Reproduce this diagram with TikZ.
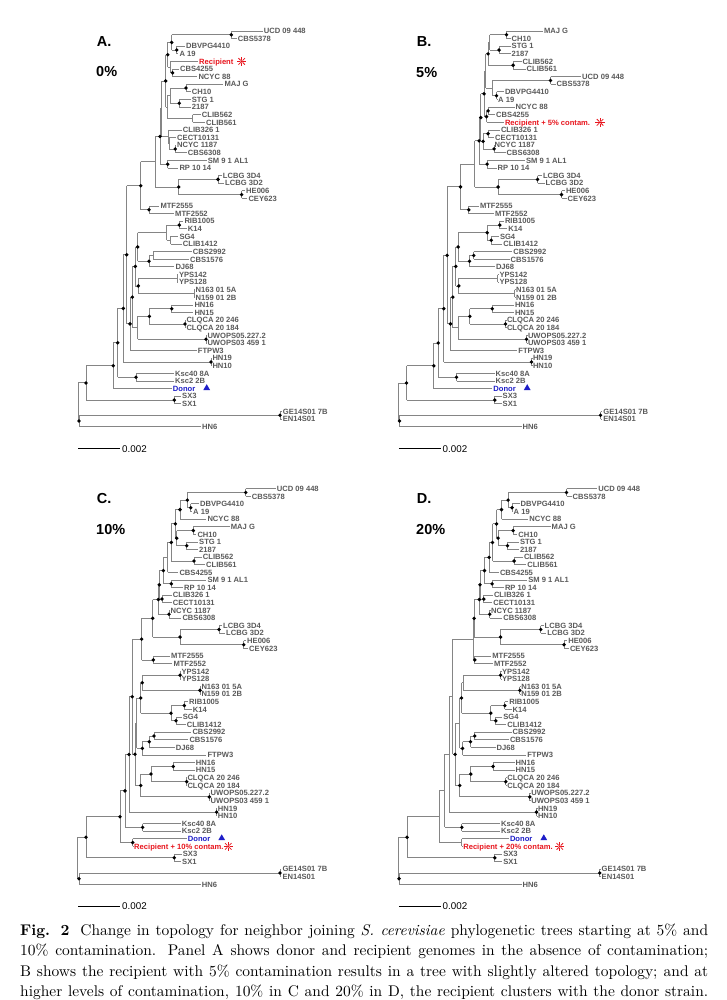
\documentclass[tikz,border=0pt]{standalone}
\usepackage{fontspec}
\usepackage{graphicx}
\newfontfamily\arialf{Liberation Sans}
\usetikzlibrary{calc,shapes.geometric}
\pgfdeclarelayer{bg}\pgfsetlayers{bg,main}
\definecolor{recred}{HTML}{E8161E}
\definecolor{donblue}{HTML}{1E1EC8}
\definecolor{labc}{HTML}{5A5A5A}
\definecolor{brc}{HTML}{858585}
\tikzset{
 br/.style={draw=brc, line width=0.85pt},
 lbl/.style={font=\arialf\bfseries\fontsize{7.6}{8}\selectfont, text=labc, anchor=west, inner sep=0pt, text height=5.4pt, text depth=0pt},
 dotn/.style={circle, fill=black, inner sep=0pt, minimum size=3.8pt},
 ttl/.style={font=\arialf\bfseries\fontsize{14.5}{16}\selectfont, anchor=west, inner sep=0pt, text height=10.4pt, text depth=0pt},
 sbt/.style={font=\arialf\fontsize{9.8}{11}\selectfont, anchor=west, inner sep=0pt, text height=7pt, text depth=0pt},
 sbar/.style={draw=black, line width=0.8pt},
 dtri/.style={regular polygon, regular polygon sides=3, fill=donblue, inner sep=0pt, minimum size=7.8pt},
 rdot/.style={circle, fill=recred, inner sep=0pt, minimum size=2.6pt}
}
\def\pox{0}\def\poy{0}
\newcommand\lf[4]{%
 \coordinate (#1) at ({\pox+#3},{\poy+31+7.61*#2});
 \node[lbl] (#1t) at ([xshift=1pt]#1) {#4};}
\newcommand\nd[4]{%
 \path let \p1=(#3),\p2=(#4) in coordinate (#1) at ({(\pox+#2)*1pt},{0.5*\y1+0.5*\y2});
 \begin{pgfonlayer}{bg}\draw[br] (#1 |- #3) -- (#1 |- #4) (#1 |- #3) -- (#3) (#1 |- #4) -- (#4);\end{pgfonlayer}}
\newcommand\ndd[4]{\nd{#1}{#2}{#3}{#4}\node[dotn] (#1d) at (#1) {};}
\newcommand\rstar[3]{%
 \node[rdot] (#1) at ({\pox+#2},{\poy+31+7.61*#3}) {};
 \foreach \ang in {0,45,...,315} \draw[recred, line width=0.8pt] ($(#1)+(\ang:1.4pt)$) -- ($(#1)+(\ang:4.6pt)$);}
\newcommand\dtriang[3]{\node[dtri] (#1) at ({\pox+#2},{\poy+31+7.61*#3-0.6}) {};}
\newcommand\lowAB[2]{%
\lf{#125}{25}{183.3}{RIB1005}
\lf{#126}{26}{186.7}{K14}
\lf{#127}{27}{178.3}{SG4}
\lf{#128}{28}{181.7}{CLIB1412}
\lf{#129}{29}{191.7}{CBS2992}
\lf{#130}{30}{189}{CBS1576}
\lf{#131}{31}{174.3}{DJ68}
\lf{#132}{32}{177.8}{YPS142}
\lf{#133}{33}{177.8}{YPS128}
\lf{#134}{34}{194.5}{N163 01 5A}
\lf{#135}{35}{194.5}{N159 01 2B}
\lf{#136}{36}{193.3}{HN16}
\lf{#137}{37}{193.3}{HN15}
\lf{#138}{38}{185.3}{CLQCA 20 246}
\lf{#139}{39}{185.3}{CLQCA 20 184}
\lf{#140}{40}{206.3}{UWOPS05.227.2}
\lf{#141}{41}{206.3}{UWOPS03 459 1}
\lf{#142}{42}{196.7}{FTPW3}
\lf{#143}{43}{211.3}{HN19}
\lf{#144}{44}{211.3}{HN10}
\lf{#145}{45}{174}{Ksc40 8A}
\lf{#146}{46}{174}{Ksc2 2B}
\lf{#147}{47}{171.7}{\color{donblue}Donor}
\lf{#148}{48}{181}{SX3}
\lf{#149}{49}{181}{SX1}
\lf{#150}{50}{281.7}{GE14S01 7B}
\lf{#151}{51}{281.7}{EN14S01}
\lf{#152}{52}{201}{HN6}
\ndd{#1RK}{179.3}{#125}{#126}
#2{#1SG}{170.7}{#127}{#128}
#2{#1RS}{166.7}{#1RK}{#1SG}
#2{#1CB}{153.3}{#129}{#130}
\ndd{#1CD}{149}{#1CB}{#131}
\ndd{#1U}{137.7}{#1RS}{#1CD}
\nd{#1YP}{177.3}{#132}{#133}
\nd{#1N}{194.3}{#134}{#135}
\ndd{#1YN}{138.3}{#1YP}{#1N}
\ndd{#1V}{135.3}{#1U}{#1YN}
\ndd{#1HN}{171.7}{#136}{#137}
\ndd{#1CQ}{185}{#138}{#139}
\ndd{#1HQ}{149.3}{#1HN}{#1CQ}
\ndd{#1UW}{206}{#140}{#141}
\nd{#1W}{137.7}{#1HQ}{#1UW}
\ndd{#1VW}{132.3}{#1V}{#1W}
\ndd{#1VF}{130}{#1VW}{#142}
\ndd{#1SV}{126.7}{#1S}{#1VF}
\ndd{#1H19}{211}{#143}{#144}
\ndd{#1SH}{123.3}{#1SV}{#1H19}
\ndd{#1Ks}{136}{#145}{#146}
\ndd{#1SK}{117.7}{#1SH}{#1Ks}
\ndd{#1SD}{113.3}{#1SK}{#147}
\ndd{#1SX}{174.3}{#148}{#149}
\ndd{#1T}{86}{#1SD}{#1SX}
\ndd{#1GE}{280}{#150}{#151}
\ndd{#1GH}{79}{#1GE}{#152}
\nd{#1root}{78.3}{#1T}{#1GH}
\dtriang{#1tri}{206.7}{47}
}
\begin{document}
\begin{tikzpicture}[x=1pt,y=-1pt]
\useasboundingbox (0,0) rectangle (726,1000);
\begin{pgfonlayer}{bg}\fill[white] (0,0) rectangle (726,1000);\end{pgfonlayer}
% ---------------- Panel A
\def\pox{0}\def\poy{0}
\node[ttl] (tA) at (96.7,41) {A.};
\node[ttl] (pA) at (96,71) {0\%};
\lf{a0}{0}{262.7}{UCD 09 448}
\lf{a1}{1}{236.7}{CBS5378}
\lf{a2}{2}{185}{DBVPG4410}
\lf{a3}{3}{178.3}{A 19}
\lf{a4}{4}{198}{\color{recred}Recipient}
\lf{a5}{5}{179}{CBS4255}
\lf{a6}{6}{197.3}{NCYC 88}
\lf{a7}{7}{223.3}{MAJ G}
\lf{a8}{8}{190.7}{CH10}
\lf{a9}{9}{190.7}{STG 1}
\lf{a10}{10}{190.7}{2187}
\lf{a11}{11}{200.7}{CLIB562}
\lf{a12}{12}{205}{CLIB561}
\lf{a13}{13}{181.7}{CLIB326 1}
\lf{a14}{14}{176}{CECT10131}
\lf{a15}{15}{176}{NCYC 1187}
\lf{a16}{16}{186.7}{CBS6308}
\lf{a17}{17}{206.7}{SM 9 1 AL1}
\lf{a18}{18}{178.3}{RP 10 14}
\lf{a19}{19}{221.7}{LCBG 3D4}
\lf{a20}{20}{224}{LCBG 3D2}
\lf{a21}{21}{245}{HE006}
\lf{a22}{22}{247.3}{CEY623}
\lf{a23}{23}{159.3}{MTF2555}
\lf{a24}{24}{174}{MTF2552}
\ndd{aUC}{231.3}{a0}{a1}
\ndd{aDA}{176.7}{a2}{a3}
\ndd{aX1}{171.7}{aUC}{aDA}
\ndd{anA}{172.5}{a5}{a6}
\nd{anB}{170.5}{a4}{anA}
\ndd{aX12}{167.7}{aX1}{anB}
\ndd{aMC}{186}{a7}{a8}
\ndd{aSA}{179.3}{a9}{a10}
\nd{aMS}{170}{aMC}{aSA}
\nd{aCL}{192.7}{a11}{a12}
\nd{aX3}{167.3}{aMS}{aCL}
\ndd{aX123}{165.7}{aX12}{aX3}
\ndd{aNC}{175.3}{a15}{a16}
\nd{aC2}{169}{a14}{aNC}
\nd{aX4}{168.3}{a13}{aC2}
\nd{aP}{161.5}{aX123}{aX4}
\ndd{aSM}{167.7}{a17}{a18}
\ndd{aQ}{160}{aP}{aSM}
\ndd{aLC}{218}{a19}{a20}
\ndd{aHC}{241.7}{a21}{a22}
\ndd{aLH}{178.7}{aLC}{aHC}
\nd{aR}{155}{aQ}{aLH}
\ndd{aMT}{149}{a23}{a24}
\ndd{aS}{140.7}{aR}{aMT}
\lowAB{a}{\nd}
\rstar{astar}{241.7}{4}
\coordinate (sa1) at (78.3,448.7); \coordinate (sa2) at (120,448.7);
\draw[sbar] (sa1) -- (sa2);
\node[sbt] (sat) at (122,448.7) {0.002};
% ---------------- Panel B
\def\pox{320.5}\def\poy{0}
\node[ttl] (tB) at (416.7,41) {B.};
\node[ttl] (pB) at (416,72) {5\%};
\lf{b0}{0}{222.3}{MAJ G}
\lf{b1}{1}{190}{CH10}
\lf{b2}{2}{190}{STG 1}
\lf{b3}{3}{190}{2187}
\lf{b4}{4}{201}{CLIB562}
\lf{b5}{5}{205}{CLIB561}
\lf{b6}{6}{260.5}{UCD 09 448}
\lf{b7}{7}{235}{CBS5378}
\lf{b8}{8}{183.3}{DBVPG4410}
\lf{b9}{9}{176.5}{A 19}
\lf{b10}{10}{194}{NCYC 88}
\lf{b11}{11}{174.5}{CBS4255}
\lf{b12}{12}{183.3}{\color{recred}Recipient + 5\% contam.}
\lf{b13}{13}{179.3}{CLIB326 1}
\lf{b14}{14}{173.5}{CECT10131}
\lf{b15}{15}{173}{NCYC 1187}
\lf{b16}{16}{185}{CBS6308}
\lf{b17}{17}{204.3}{SM 9 1 AL1}
\lf{b18}{18}{176}{RP 10 14}
\lf{b19}{19}{221.3}{LCBG 3D4}
\lf{b20}{20}{224}{LCBG 3D2}
\lf{b21}{21}{244.3}{HE006}
\lf{b22}{22}{246}{CEY623}
\lf{b23}{23}{158.3}{MTF2555}
\lf{b24}{24}{173.3}{MTF2552}
\ndd{bMC}{186}{b0}{b1}
\ndd{bSA}{178.6}{b2}{b3}
\nd{bMS}{169.3}{bMC}{bSA}
\ndd{bCL}{192.6}{b4}{b5}
\ndd{bX3}{167.6}{bMS}{bCL}
\ndd{bUC}{230}{b6}{b7}
\ndd{bDA}{176}{b8}{b9}
\nd{bX1}{172}{bUC}{bDA}
\nd{bY1}{165.3}{bX3}{bX1}
\ndd{bN8}{167.6}{b10}{b11}
\ndd{bX2}{166}{bN8}{b12}
\ndd{bY2}{163.6}{bY1}{bX2}
\ndd{bCC}{167.6}{b13}{b14}
\ndd{bNC}{173.6}{b15}{b16}
\ndd{bX4}{162.6}{bCC}{bNC}
\ndd{bP}{160.3}{bY2}{bX4}
\ndd{bSM}{166.6}{b17}{b18}
\ndd{bQ}{158.6}{bP}{bSM}
\ndd{bLC}{217}{b19}{b20}
\ndd{bHC}{241}{b21}{b22}
\ndd{bLH}{177.6}{bLC}{bHC}
\nd{bR}{154.3}{bQ}{bLH}
\ndd{bMT}{148.3}{b23}{b24}
\ndd{bS}{140}{bR}{bMT}
\lowAB{b}{\ndd}
\rstar{bstar}{279.5}{12}
\coordinate (sb1) at (398.8,448.7); \coordinate (sb2) at (440.5,448.7);
\draw[sbar] (sb1) -- (sb2);
\node[sbt] (sbt) at (442.5,448.7) {0.002};
% ---------------- Panel C
\def\pox{0}\def\poy{457.7}
\node[ttl] (tC) at (96.7,498) {C.};
\node[ttl] (pC) at (96,529) {10\%};
\lf{c0}{0}{275.7}{UCD 09 448}
\lf{c1}{1}{250.7}{CBS5378}
\lf{c2}{2}{199}{DBVPG4410}
\lf{c3}{3}{192}{A 19}
\lf{c4}{4}{206.3}{NCYC 88}
\lf{c5}{5}{229.7}{MAJ G}
\lf{c6}{6}{196.3}{CH10}
\lf{c7}{7}{198}{STG 1}
\lf{c8}{8}{198}{2187}
\lf{c9}{9}{201.7}{CLIB562}
\lf{c10}{10}{205}{CLIB561}
\lf{c11}{11}{178.3}{CBS4255}
\lf{c12}{12}{206.3}{SM 9 1 AL1}
\lf{c13}{13}{183}{RP 10 14}
\lf{c14}{14}{171.7}{CLIB326 1}
\lf{c15}{15}{171.7}{CECT10131}
\lf{c16}{16}{169.5}{NCYC 1187}
\lf{c17}{17}{181.3}{CBS6308}
\lf{c18}{18}{222}{LCBG 3D4}
\lf{c19}{19}{225}{LCBG 3D2}
\lf{c20}{20}{246}{HE006}
\lf{c21}{21}{248}{CEY623}
\lf{c22}{22}{170}{MTF2555}
\lf{c23}{23}{172.3}{MTF2552}
\lf{c24}{24}{180.3}{YPS142}
\lf{c25}{25}{180.3}{YPS128}
\lf{c26}{26}{200.3}{N163 01 5A}
\lf{c27}{27}{200.3}{N159 01 2B}
\lf{c28}{28}{188}{RIB1005}
\lf{c29}{29}{191.7}{K14}
\lf{c30}{30}{181.7}{SG4}
\lf{c31}{31}{185.7}{CLIB1412}
\lf{c32}{32}{191.3}{CBS2992}
\lf{c33}{33}{188.3}{CBS1576}
\lf{c34}{34}{174.7}{DJ68}
\lf{c35}{35}{206.3}{FTPW3}
\lf{c36}{36}{194.7}{HN16}
\lf{c37}{37}{194.7}{HN15}
\lf{c38}{38}{186.3}{CLQCA 20 246}
\lf{c39}{39}{186.3}{CLQCA 20 184}
\lf{c40}{40}{209.5}{UWOPS05.227.2}
\lf{c41}{41}{209.5}{UWOPS03 459 1}
\lf{c42}{42}{216.7}{HN19}
\lf{c43}{43}{216.7}{HN10}
\lf{c44}{44}{180.7}{Ksc40 8A}
\lf{c45}{45}{180.7}{Ksc2 2B}
\lf{c46}{46}{186.7}{\color{donblue}Donor}
\lf{c47}{47}{133}{\color{recred}Recipient + 10\% contam.}
\lf{c48}{48}{181.7}{SX3}
\lf{c49}{49}{181}{SX1}
\lf{c50}{50}{281.3}{GE14S01 7B}
\lf{c51}{51}{281.3}{EN14S01}
\lf{c52}{52}{200.7}{HN6}
\ndd{cUC}{245.7}{c0}{c1}
\ndd{cDA}{190.7}{c2}{c3}
\ndd{cX1}{187.3}{cUC}{cDA}
\ndd{cXN}{180}{cX1}{c4}
\ndd{cMC}{193.3}{c5}{c6}
\ndd{cSA}{186.7}{c7}{c8}
\ndd{cMS}{176.7}{cMC}{cSA}
\ndd{cK1}{175.3}{cXN}{cMS}
\ndd{cCL}{194}{c9}{c10}
\ndd{cK2}{171.3}{cK1}{cCL}
\nd{cK3}{167.7}{cK2}{c11}
\ndd{cSM}{171.3}{c12}{c13}
\ndd{cZ}{163.3}{cK3}{cSM}
\ndd{cCC}{162}{c14}{c15}
\ndd{cP}{159.3}{cZ}{cCC}
\ndd{cNC}{169}{c16}{c17}
\ndd{cQ}{158.3}{cP}{cNC}
\ndd{cLC}{219}{c18}{c19}
\ndd{cHC}{243.7}{c20}{c21}
\ndd{cLH}{180}{cLC}{cHC}
\ndd{cR}{152.7}{cQ}{cLH}
\ndd{cMT}{153.3}{c22}{c23}
\ndd{cS}{141.7}{cR}{cMT}
\ndd{cYP}{180}{c24}{c25}
\ndd{cN}{200}{c26}{c27}
\ndd{cYN}{142.3}{cYP}{cN}
\ndd{cRK}{184.3}{c28}{c29}
\ndd{cSG}{176}{c30}{c31}
\ndd{cRS}{171}{cRK}{cSG}
\ndd{cA}{140.7}{cYN}{cRS}
\ndd{cCB}{154}{c32}{c33}
\ndd{cCD}{149.3}{cCB}{c34}
\ndd{cB}{142.3}{cCD}{c35}
\nd{cAB}{136.5}{cA}{cB}
\ndd{cHN}{173.3}{c36}{c37}
\ndd{cCQ}{186.7}{c38}{c39}
\ndd{cHQ}{151}{cHN}{cCQ}
\ndd{cUW}{209.3}{c40}{c41}
\ndd{cW}{140.7}{cHQ}{cUW}
\ndd{cABW}{135}{cAB}{cW}
\ndd{cSW}{132.3}{cS}{cABW}
\ndd{cH19}{216.7}{c42}{c43}
\ndd{cH}{129}{cSW}{cH19}
\ndd{cKs}{142.7}{c44}{c45}
\ndd{cKH}{125}{cH}{cKs}
\ndd{cDR}{132.7}{c46}{c47}
\ndd{cKD}{120}{cKH}{cDR}
\ndd{cSX}{174.3}{c48}{c49}
\ndd{cT}{86}{cKD}{cSX}
\ndd{cGE}{280}{c50}{c51}
\ndd{cGH}{79}{cGE}{c52}
\nd{croot}{77.7}{cT}{cGH}
\dtriang{ctri}{221.7}{46}
\rstar{cstar}{228.3}{47}
\coordinate (sc1) at (78.3,906.4); \coordinate (sc2) at (120,906.4);
\draw[sbar] (sc1) -- (sc2);
\node[sbt] (sct) at (122,906.4) {0.002};
% ---------------- Panel D
\def\pox{320.5}\def\poy{457.7}
\node[ttl] (tD) at (416.7,498) {D.};
\node[ttl] (pD) at (416,529) {20\%};
\lf{d0}{0}{276.6}{UCD 09 448}
\lf{d1}{1}{251}{CBS5378}
\lf{d2}{2}{199}{DBVPG4410}
\lf{d3}{3}{192}{A 19}
\lf{d4}{4}{207.6}{NCYC 88}
\lf{d5}{5}{230}{MAJ G}
\lf{d6}{6}{196.6}{CH10}
\lf{d7}{7}{198.3}{STG 1}
\lf{d8}{8}{198.3}{2187}
\lf{d9}{9}{202.3}{CLIB562}
\lf{d10}{10}{205.6}{CLIB561}
\lf{d11}{11}{178.3}{CBS4255}
\lf{d12}{12}{206.6}{SM 9 1 AL1}
\lf{d13}{13}{183.3}{RP 10 14}
\lf{d14}{14}{172.3}{CLIB326 1}
\lf{d15}{15}{171.6}{CECT10131}
\lf{d16}{16}{169.5}{NCYC 1187}
\lf{d17}{17}{181.6}{CBS6308}
\lf{d18}{18}{223}{LCBG 3D4}
\lf{d19}{19}{225.6}{LCBG 3D2}
\lf{d20}{20}{246.6}{HE006}
\lf{d21}{21}{248.3}{CEY623}
\lf{d22}{22}{170.6}{MTF2555}
\lf{d23}{23}{172.3}{MTF2552}
\lf{d24}{24}{180.3}{YPS142}
\lf{d25}{25}{180.3}{YPS128}
\lf{d26}{26}{199.6}{N163 01 5A}
\lf{d27}{27}{199.6}{N159 01 2B}
\lf{d28}{28}{187.6}{RIB1005}
\lf{d29}{29}{191}{K14}
\lf{d30}{30}{181.6}{SG4}
\lf{d31}{31}{185.6}{CLIB1412}
\lf{d32}{32}{191}{CBS2992}
\lf{d33}{33}{188.3}{CBS1576}
\lf{d34}{34}{175}{DJ68}
\lf{d35}{35}{205.6}{FTPW3}
\lf{d36}{36}{194}{HN16}
\lf{d37}{37}{194}{HN15}
\lf{d38}{38}{185.6}{CLQCA 20 246}
\lf{d39}{39}{185.6}{CLQCA 20 184}
\lf{d40}{40}{209.6}{UWOPS05.227.2}
\lf{d41}{41}{209.6}{UWOPS03 459 1}
\lf{d42}{42}{216.3}{HN19}
\lf{d43}{43}{216.3}{HN10}
\lf{d44}{44}{179.5}{Ksc40 8A}
\lf{d45}{45}{179.5}{Ksc2 2B}
\lf{d46}{46}{188.3}{\color{donblue}Donor}
\lf{d47}{47}{141.6}{\color{recred}Recipient + 20\% contam.}
\lf{d48}{48}{181.6}{SX3}
\lf{d49}{49}{181.6}{SX1}
\lf{d50}{50}{280}{GE14S01 7B}
\lf{d51}{51}{280}{EN14S01}
\lf{d52}{52}{201}{HN6}
\ndd{dUC}{246}{d0}{d1}
\ndd{dDA}{191.6}{d2}{d3}
\ndd{dX1}{187.6}{dUC}{dDA}
\ndd{dXN}{181}{dX1}{d4}
\ndd{dMC}{192.6}{d5}{d6}
\ndd{dSA}{187}{d7}{d8}
\ndd{dMS}{177.6}{dMC}{dSA}
\ndd{dK1}{176}{dXN}{dMS}
\ndd{dCL}{193.6}{d9}{d10}
\ndd{dK2}{172}{dK1}{dCL}
\ndd{dK3}{168.6}{dK2}{d11}
\ndd{dSM}{171.6}{d12}{d13}
\ndd{dZ}{164}{dK3}{dSM}
\ndd{dCC}{163.3}{d14}{d15}
\ndd{dP}{159.5}{dZ}{dCC}
\ndd{dNC}{169.3}{d16}{d17}
\ndd{dQ}{158.8}{dP}{dNC}
\ndd{dLC}{220.3}{d18}{d19}
\ndd{dHC}{243.6}{d20}{d21}
\ndd{dLH}{180}{dLC}{dHC}
\ndd{dR}{153.6}{dQ}{dLH}
\ndd{dMT}{154.3}{d22}{d23}
\nd{dS}{153}{dR}{dMT}
\ndd{dYP}{180}{d24}{d25}
\ndd{dN}{199.3}{d26}{d27}
\nd{dYN}{142.5}{dYP}{dN}
\ndd{dRK}{184.3}{d28}{d29}
\ndd{dSG}{175.3}{d30}{d31}
\ndd{dRS}{170.3}{dRK}{dSG}
\ndd{dA}{141}{dYN}{dRS}
\ndd{dCB}{154.3}{d32}{d33}
\ndd{dCD}{150}{dCB}{d34}
\ndd{dB}{142}{dCD}{d35}
\nd{dAB}{139}{dA}{dB}
\ndd{dHN}{172.6}{d36}{d37}
\ndd{dCQ}{185.3}{d38}{d39}
\ndd{dHQ}{150.3}{dHN}{dCQ}
\ndd{dUW}{209.3}{d40}{d41}
\ndd{dW}{139.3}{dHQ}{dUW}
\ndd{dABW}{134.6}{dAB}{dW}
\nd{dSW}{132}{dS}{dABW}
\ndd{dH19}{216}{d42}{d43}
\nd{dH}{128.6}{dSW}{dH19}
\ndd{dKs}{141.3}{d44}{d45}
\nd{dKH}{124.3}{dH}{dKs}
\nd{dDR}{141.3}{d46}{d47}
\nd{dKD}{118.6}{dKH}{dDR}
\ndd{dSX}{174.3}{d48}{d49}
\ndd{dT}{86.6}{dKD}{dSX}
\ndd{dGE}{279.3}{d50}{d51}
\ndd{dGH}{78.6}{dGE}{d52}
\nd{droot}{78}{dT}{dGH}
\dtriang{dtri}{223.3}{46}
\rstar{dstar}{239.3}{47}
\coordinate (sd1) at (398.8,906.4); \coordinate (sd2) at (440.5,906.4);
\draw[sbar] (sd1) -- (sd2);
\node[sbt] (sdt) at (442.5,906.4) {0.002};
% ---------------- Caption
\node[anchor=base west, inner sep=0pt] (cap) at (20,935.5) {\scalebox{1.546}{\parbox[t]{445pt}{\fontsize{10}{13.13}\selectfont\parfillskip=0pt\parindent=0pt
\textbf{Fig. 2}\hspace{0.7em}Change in topology for neighbor joining \textit{S. cerevisiae} phylogenetic trees starting at 5\% and\linebreak 10\% contamination. Panel A shows donor and recipient genomes in the absence of contamination;\linebreak B shows the recipient with 5\% contamination results in a tree with slightly altered topology; and at\linebreak higher levels of contamination, 10\% in C and 20\% in D, the recipient clusters with the donor strain.}}};
\end{tikzpicture}
\end{document}
